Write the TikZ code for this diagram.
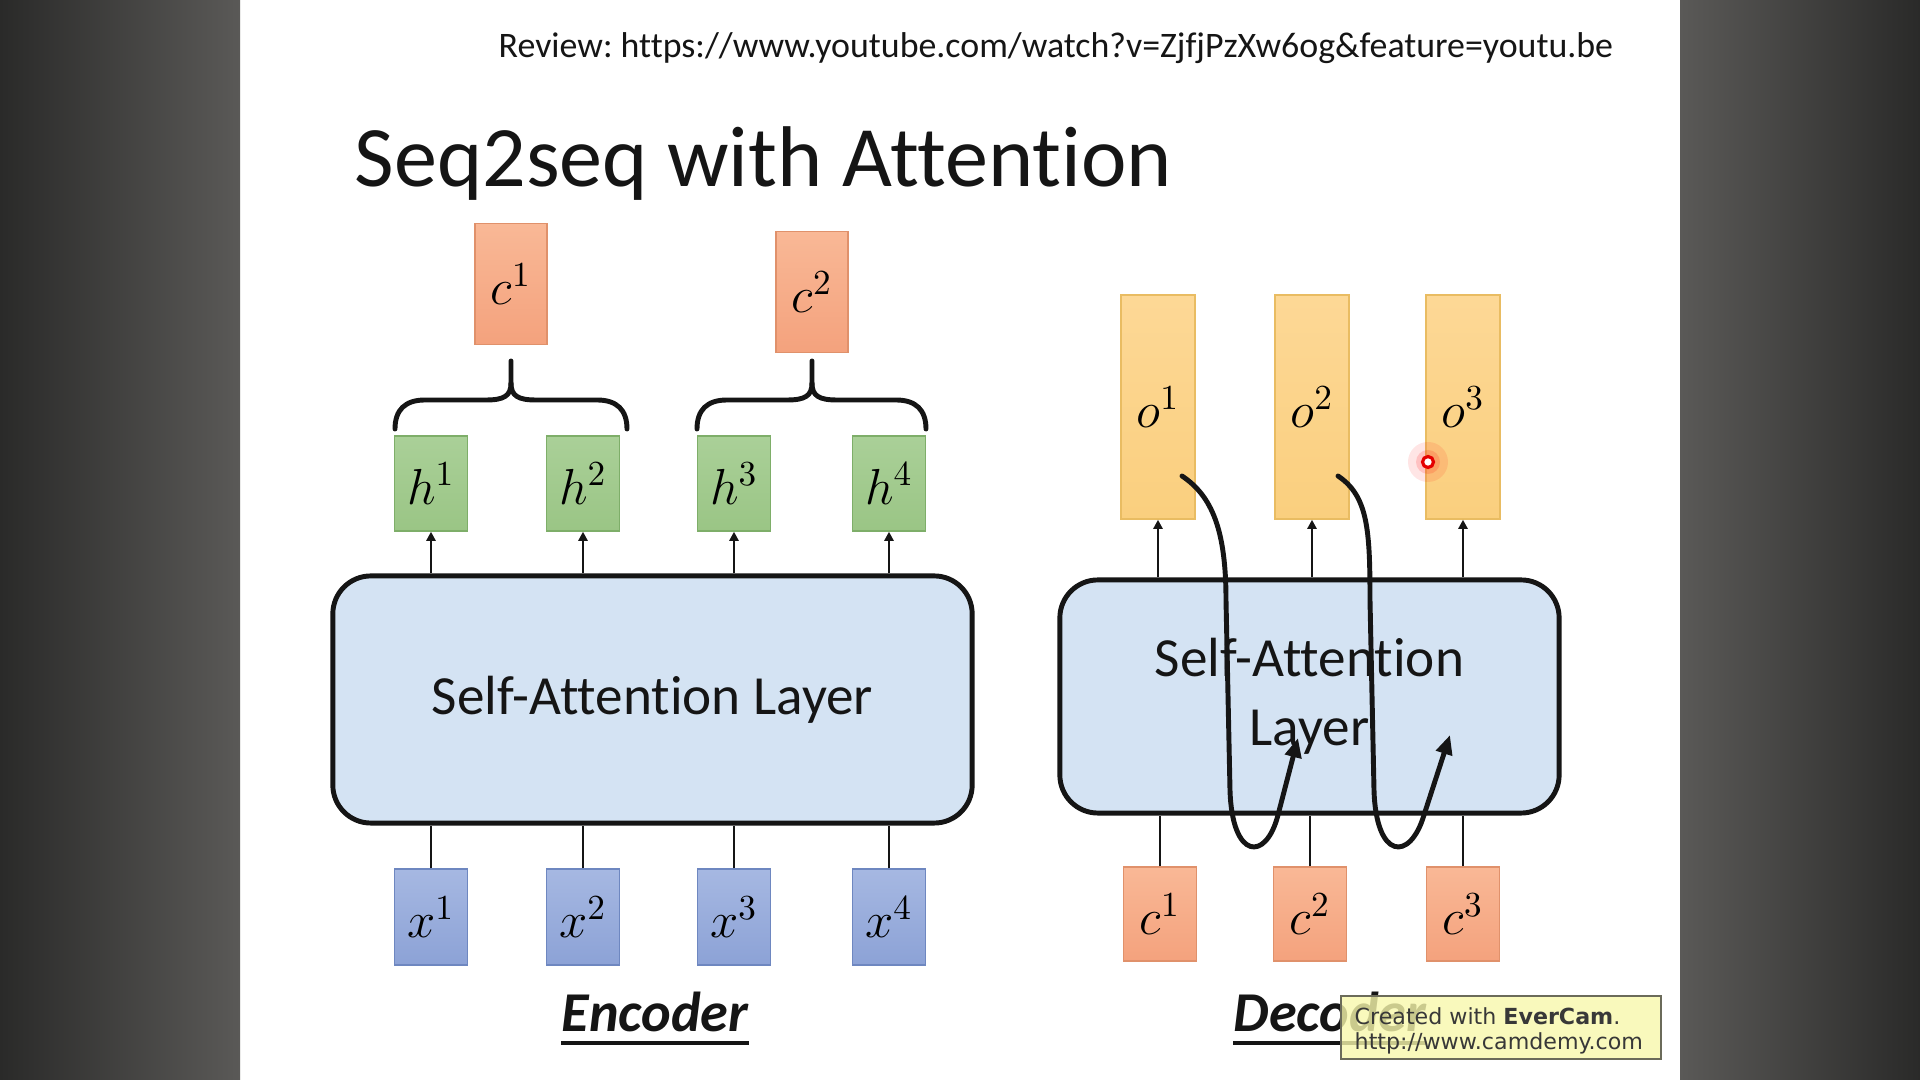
\documentclass[tikz,border=0pt]{standalone}
\usepackage[no-math]{fontspec}
\setmainfont{Carlito}[Ligatures=NoCommon]
\newfontfamily\wmfont{DejaVu Sans}
\usetikzlibrary{arrows.meta,calc}
\frenchspacing

\definecolor{panelDark}{HTML}{2A2A29}
\definecolor{panelLight}{HTML}{5A5957}
\definecolor{cTop}{HTML}{F9B896}
\definecolor{cBot}{HTML}{F4A27D}
\definecolor{cEdge}{HTML}{E0916B}
\definecolor{hTop}{HTML}{AAD098}
\definecolor{hBot}{HTML}{9AC585}
\definecolor{hEdge}{HTML}{7EAE69}
\definecolor{xTop}{HTML}{A6B8E2}
\definecolor{xBot}{HTML}{8CA2D6}
\definecolor{xEdge}{HTML}{6E87C0}
\definecolor{oTop}{HTML}{FDD896}
\definecolor{oBot}{HTML}{FACF7E}
\definecolor{oEdge}{HTML}{E9BC62}
\definecolor{layerFill}{HTML}{D4E3F3}
\definecolor{wmFill}{HTML}{F8F8AC}
\definecolor{wmEdge}{HTML}{6B6B5A}
\definecolor{ink}{HTML}{151515}

\begin{document}
\begin{tikzpicture}[x=0.01cm,y=-0.01cm,
  box/.style={draw, line width=0.4pt, inner sep=0pt,
    font=\fontsize{14.3}{17}\selectfont},
  cbox/.style={box, draw=cEdge, top color=cTop, bottom color=cBot,
    minimum width=0.72cm, minimum height=1.21cm},
  hbox/.style={box, draw=hEdge, top color=hTop, bottom color=hBot,
    minimum width=0.73cm, minimum height=0.95cm},
  xbox/.style={box, draw=xEdge, top color=xTop, bottom color=xBot,
    minimum width=0.73cm, minimum height=0.96cm},
  obox/.style={box, draw=oEdge, top color=oTop, bottom color=oBot,
    minimum width=0.74cm, minimum height=2.24cm},
  layer/.style={draw=ink, line width=1.4pt, fill=layerFill,
    rounded corners=0.38cm, align=center, text=ink,
    font=\fontsize{15.7}{19.6}\selectfont},
  conn/.style={draw=ink, line width=0.8pt},
  uparrow/.style={conn, -{Triangle[length=2.6pt,width=2.6pt]}},
  curvearrow/.style={draw=ink, line width=1.4pt, line cap=round,
    -{Triangle[length=5.5pt,width=4.6pt]}},
  brace/.style={draw=ink, line width=1.4pt, line cap=round, line join=round},
  sidelabel/.style={inner sep=0pt, text=ink,
    font=\bfseries\itshape\fontsize{16}{19}\selectfont}
]
\useasboundingbox (0,0) rectangle (1920,1080);
\fill[white] (0,0) rectangle (1920,1080);
% dark side panels around the slide
\shade[left color=panelDark, right color=panelLight] (0,0) rectangle (240,1080);
\shade[left color=panelLight, right color=panelDark] (1680,0) rectangle (1920,1080);

% header
\node[anchor=base west, inner sep=0pt, text=ink, font=\fontsize{10.2}{12}\selectfont]
  (review) at (498,58) {Review: https://www.youtube.com/watch?v=ZjfjPzXw6og\&feature=youtu.be};
\node[anchor=base west, inner sep=0pt, text=ink, font=\fontsize{24.5}{28}\selectfont]
  (title) at (354,187) {Seq2seq with Attention};

% ---------------- encoder ----------------
\node[cbox] (ec1) at (511,284) {$c^1$};
\node[cbox] (ec2) at (812,292) {$c^2$};

\node[hbox] (h1) at (431,483.5) {$h^1$};
\node[hbox] (h2) at (583,483.5) {$h^2$};
\node[hbox] (h3) at (734,483.5) {$h^3$};
\node[hbox] (h4) at (889,483.5) {$h^4$};

\node[layer, minimum width=6.39cm, minimum height=2.47cm] (elayer) at (652.5,699.5) {Self-Attention Layer};

\node[xbox] (x1) at (431,917) {$x^1$};
\node[xbox] (x2) at (583,917) {$x^2$};
\node[xbox] (x3) at (734,917) {$x^3$};
\node[xbox] (x4) at (889,917) {$x^4$};

\foreach \n in {1,2,3,4}{
  \draw[uparrow] (h\n.south |- elayer.north) -- (h\n.south);
  \draw[conn] (x\n.north) -- (x\n.north |- elayer.south);
}

% curly braces gathering h^1,h^2 into c^1 and h^3,h^4 into c^2
\draw[brace] (395,429) .. controls (395,410) and (405,400) .. (425,400) -- (486,400)
  .. controls (504,400) and (511,396) .. (511,383) -- (511,361);
\draw[brace] (627,429) .. controls (627,410) and (617,400) .. (597,400) -- (536,400)
  .. controls (518,400) and (511,396) .. (511,383);
\draw[brace] (697,429) .. controls (697,410) and (707,400) .. (727,400) -- (787,400)
  .. controls (805,400) and (812,396) .. (812,383) -- (812,361);
\draw[brace] (926,429) .. controls (926,410) and (916,400) .. (896,400) -- (837,400)
  .. controls (819,400) and (812,396) .. (812,383);

\node[sidelabel, anchor=base] (enc) at (655,1032) {Encoder};
\draw[ink, line width=0.9pt] ([yshift=-0.11cm]enc.base west) -- ([yshift=-0.11cm]enc.base east);

% ---------------- decoder ----------------
\node[obox] (o1) at (1158,407) {$o^1$};
\node[obox] (o2) at (1312,407) {$o^2$};
\node[obox] (o3) at (1463,407) {$o^3$};

\node[layer, minimum width=4.99cm, minimum height=2.33cm] (dlayer) at (1309.5,696.5) {Self-Attention\\Layer};

\node[cbox, minimum width=0.73cm, minimum height=0.94cm] (dc1) at (1160,914) {$c^1$};
\node[cbox, minimum width=0.73cm, minimum height=0.94cm] (dc2) at (1310,914) {$c^2$};
\node[cbox, minimum width=0.73cm, minimum height=0.94cm] (dc3) at (1463,914) {$c^3$};

\foreach \n in {1,2,3}{
  \draw[uparrow] (o\n.south |- dlayer.north) -- (o\n.south);
  \draw[conn] (dc\n.north) -- (dc\n.north |- dlayer.south);
}

% each output is fed back as the next step's input
\draw[curvearrow] ($(o1.center)+(24,69)$) .. controls +(30,20) and (1226,530) .. (1226,600)
  -- (1230,790) .. controls (1232,860) and (1266,862) .. (1278,815) -- (1298,738);
\draw[curvearrow] ($(o2.center)+(26,69)$) .. controls +(30,20) and (1370,530) .. (1370,600)
  -- (1374,790) .. controls (1376,860) and (1410,862) .. (1424,815) -- (1450,735);

\node[sidelabel, anchor=base west] (dec) at (1233,1032) {Decoder};
\draw[ink, line width=0.9pt] ([yshift=-0.11cm]dec.base west) -- ([yshift=-0.11cm]dec.base east);

% pointer highlight
\fill[red, opacity=0.10] (1428,462) circle (0.2cm);
\fill[red, opacity=0.15] (1428,462) circle (0.12cm);
\draw[red!90!black, line width=0.9pt, fill=white] (1428,462) circle (0.055cm);

% recorder stamp, partly covering the decoder caption
\node[draw=wmEdge, line width=0.6pt, fill=wmFill, fill opacity=0.8, inner sep=0pt,
  minimum width=3.2cm, minimum height=0.63cm, anchor=north west] (wm) at (1340,995) {};
\node[anchor=west, inner sep=0pt, text=ink!85, font=\wmfont\fontsize{6.3}{7.5}\selectfont]
  (wm1) at (1354,1016) {Created with \textbf{EverCam}.};
\node[anchor=west, inner sep=0pt, text=ink!85, font=\wmfont\fontsize{6.3}{7.5}\selectfont]
  (wm2) at (1354,1043) {http://www.camdemy.com};
\end{tikzpicture}
\end{document}
